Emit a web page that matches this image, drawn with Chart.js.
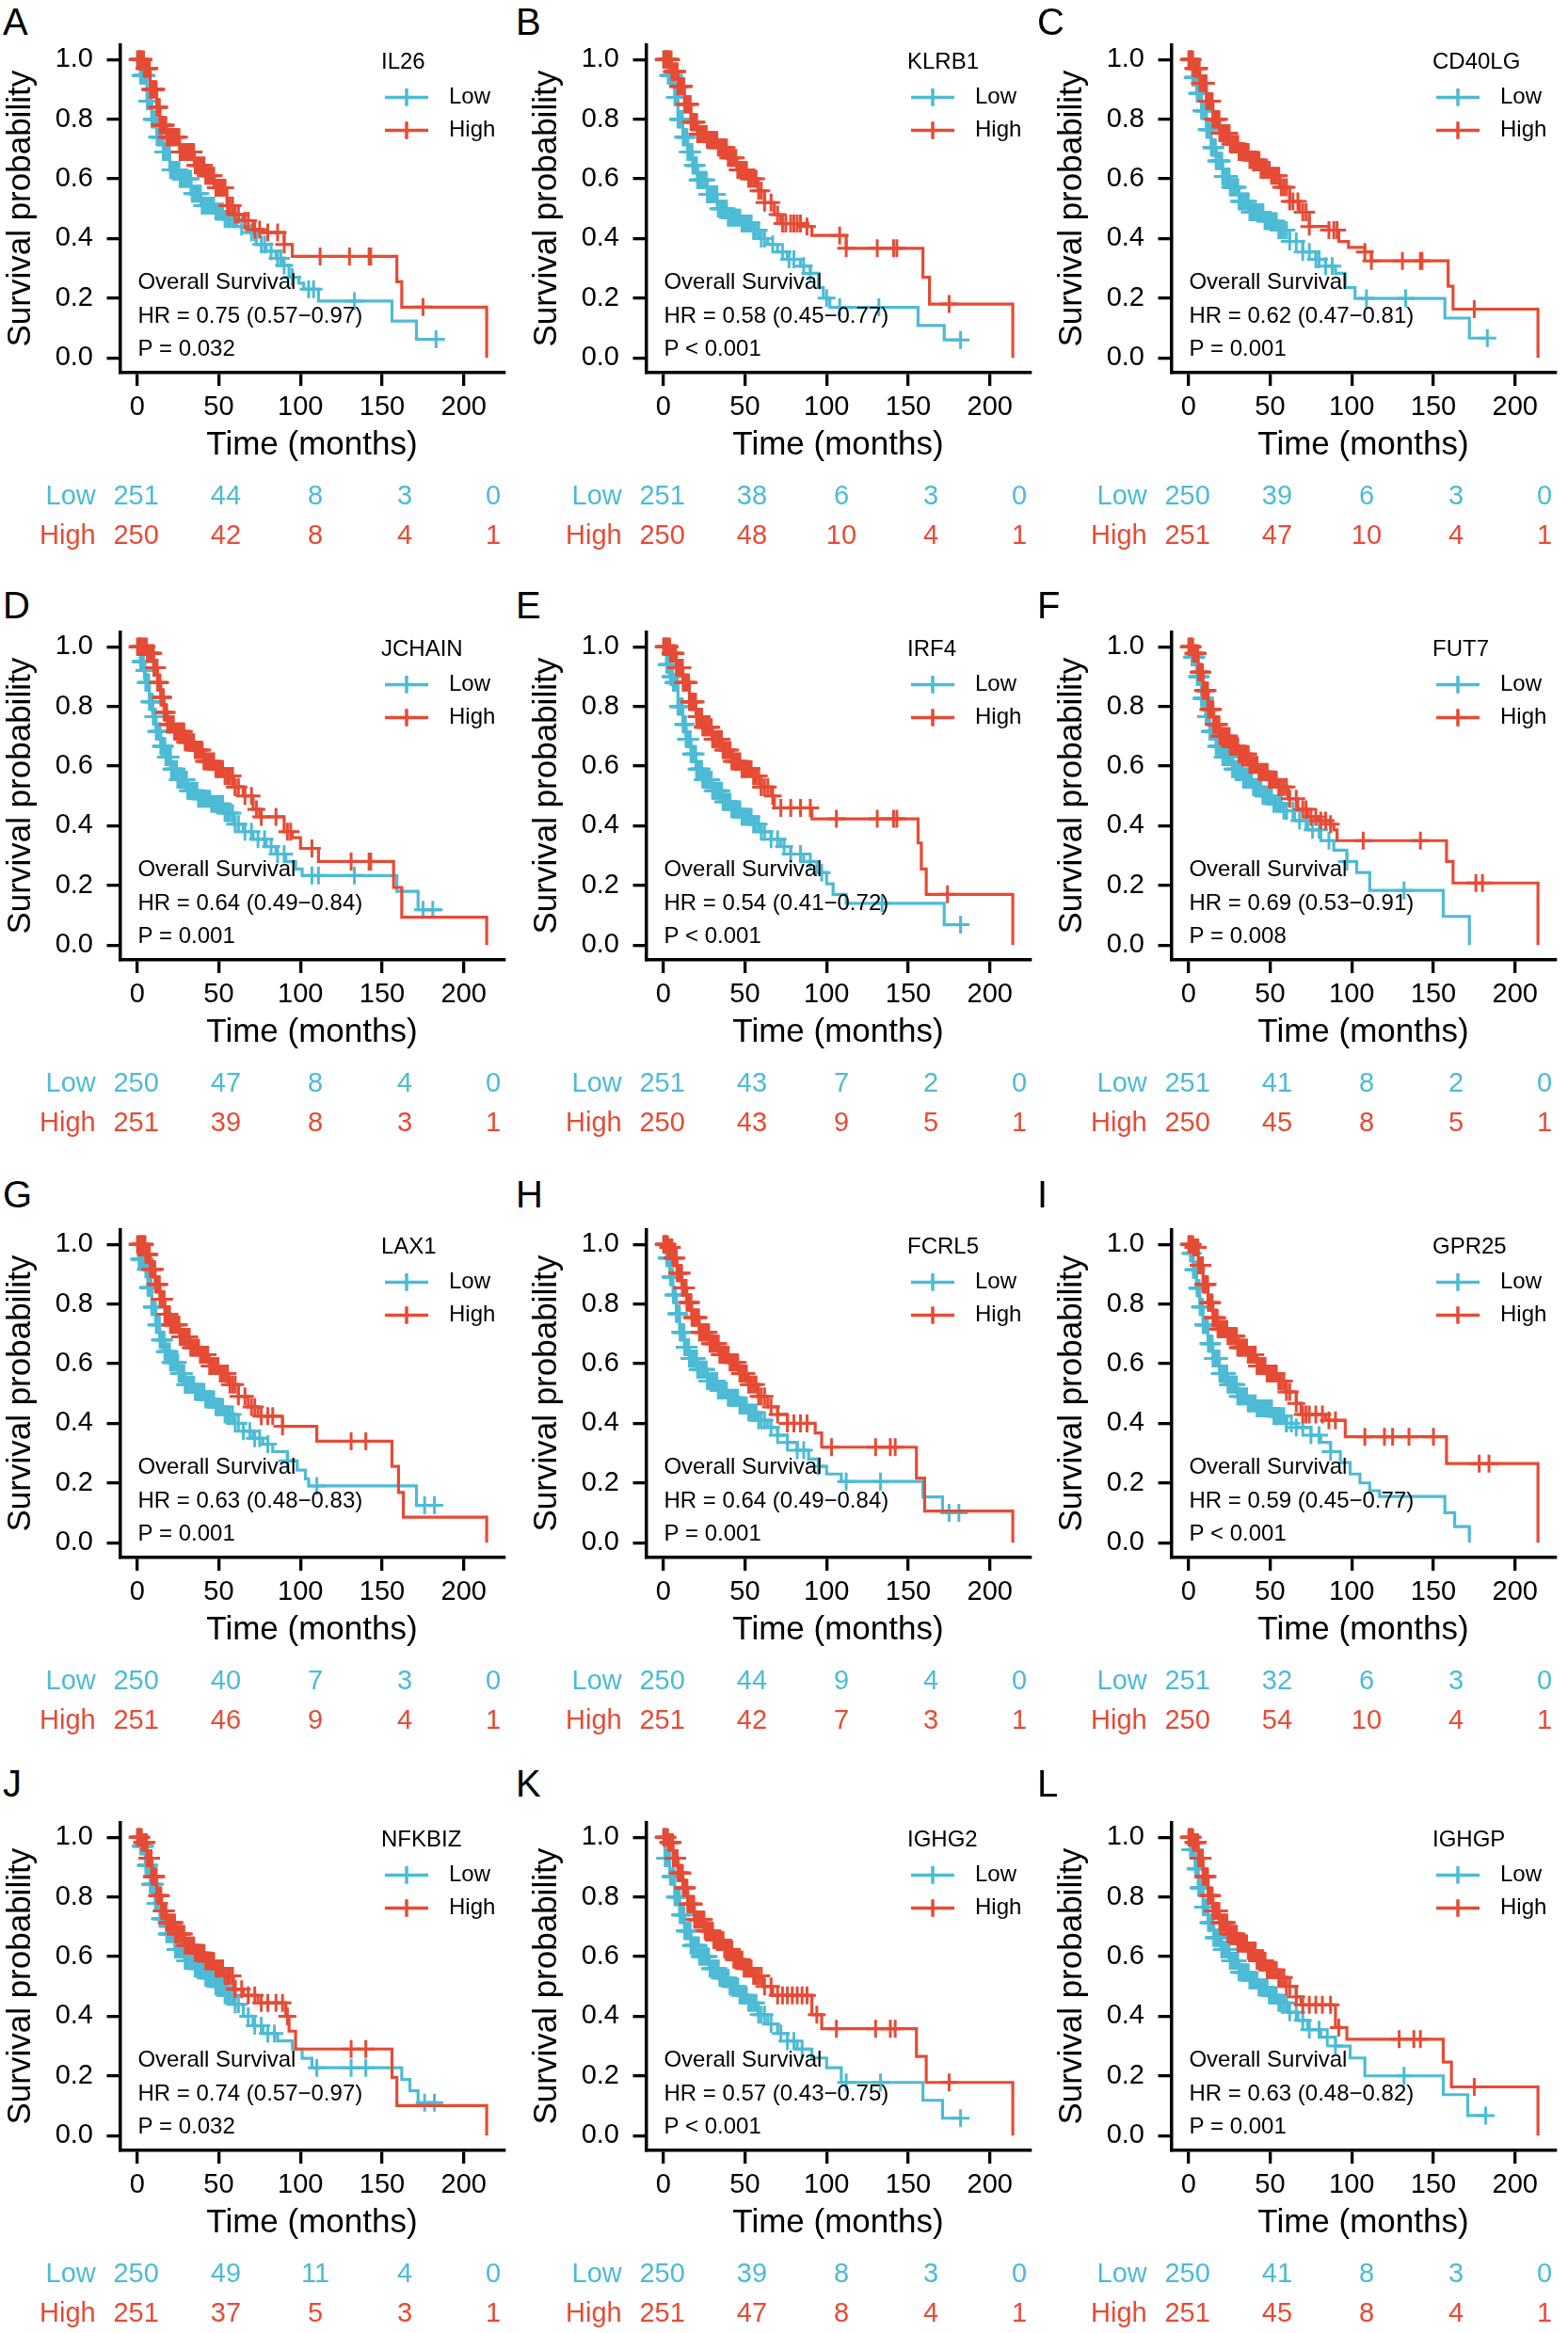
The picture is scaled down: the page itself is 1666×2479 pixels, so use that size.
<!DOCTYPE html>
<html>
<head>
<meta charset="utf-8">
<script src="https://cdn.jsdelivr.net/npm/chart.js@4.4.0/dist/chart.umd.min.js"></script>
<style>
  html, body { margin: 0; padding: 0; background: #fff; overflow: hidden; }
  #page { position: relative; width: 1666px; height: 2479px; background: #fff; }
  .letter { position: absolute; font: 40px "Liberation Sans", Arial, sans-serif; line-height: 40px; color: #000; }
</style>
</head>
<body>
<div id="page"></div>
<script>
(function(){
  const FONT = '"Liberation Sans", Arial, Helvetica, sans-serif';
  const BLUE = '#4DBBD5';
  const RED = '#E64B35';

  // ---- data ----
  const letters = ['A','B','C','D','E','F','G','H','I','J','K','L'];
  const genes = ['IL26','KLRB1','CD40LG','JCHAIN','IRF4','FUT7','LAX1','FCRL5','GPR25','NFKBIZ','IGHG2','IGHGP'];
  const hrLabels = [
    'HR = 0.75 (0.57\u22120.97)', 'HR = 0.58 (0.45\u22120.77)', 'HR = 0.62 (0.47\u22120.81)',
    'HR = 0.64 (0.49\u22120.84)', 'HR = 0.54 (0.41\u22120.72)', 'HR = 0.69 (0.53\u22120.91)',
    'HR = 0.63 (0.48\u22120.83)', 'HR = 0.64 (0.49\u22120.84)', 'HR = 0.59 (0.45\u22120.77)',
    'HR = 0.74 (0.57\u22120.97)', 'HR = 0.57 (0.43\u22120.75)', 'HR = 0.63 (0.48\u22120.82)'
  ];
  const pLabels = ['P = 0.032','P < 0.001','P = 0.001','P = 0.001','P < 0.001','P = 0.008',
                   'P = 0.001','P = 0.001','P < 0.001','P = 0.032','P < 0.001','P = 0.001'];
  const riskLow = [[251,44,8,3,0],[251,38,6,3,0],[250,39,6,3,0],[250,47,8,4,0],[251,43,7,2,0],[251,41,8,2,0],
                   [250,40,7,3,0],[250,44,9,4,0],[251,32,6,3,0],[250,49,11,4,0],[250,39,8,3,0],[250,41,8,3,0]];
  const riskHigh = [[250,42,8,4,1],[250,48,10,4,1],[251,47,10,4,1],[251,39,8,3,1],[250,43,9,5,1],[250,45,8,5,1],
                    [251,46,9,4,1],[251,42,7,3,1],[250,54,10,4,1],[251,37,5,3,1],[251,47,8,4,1],[251,45,8,4,1]];
  const timeTicks = [0, 50, 100, 150, 200];
  const survTicks = [0, 0.2, 0.4, 0.6, 0.8, 1.0];

  // dense censoring seen in the first years of every curve
  const earlyCens = [0.3,0.8,1.2,1.7,2.1,2.6,3,3.5,3.9,4.4,4.8,5.3,5.7,6.2,6.6,7.1,7.5,8,8.5,9,9.4,9.9,10.3,10.8,
    11.2,11.7,12.2,12.6,13.1,13.6,14,14.5,15,15.5,16,16.5,17,17.6,18.1,18.7,19.2,19.8,20.4,21,21.6,22.2,22.9,
    23.5,24.2,24.9,25.6,26.3,27,27.8,28.6,29.4,30.2,31,31.9,32.8,33.7,34.6,35.6,36.6,37.6,38.7,39.8,40.9,42,
    43.2,44.4,45.6,46.9,48.2,49.5,50.9,52.3,53.8,55.3,56.8,58.4,60];

  // step curves [months, survival]
  const A_low = [[0,1],[2,0.946],[6,0.86],[9,0.80],[12,0.74],[16,0.69],[20,0.63],[26,0.60],[33,0.55],[39,0.51],[47,0.49],[53,0.465],[61,0.44],[67,0.42],[73,0.38],[79,0.357],[85,0.333],[89,0.31],[93,0.27],[99,0.25],[102,0.23],[111,0.19],[156,0.123],[171,0.062],[184,0.062]];
  const A_high = [[0,1],[4,0.97],[8,0.90],[12,0.84],[14,0.78],[18,0.74],[26,0.69],[35,0.645],[41,0.61],[47,0.57],[55,0.51],[59,0.48],[65,0.46],[71,0.43],[77,0.42],[90,0.38],[95,0.34],[159,0.255],[162,0.17],[214,0]];
  const A_lowCens = [64,70,72,76,78,82,86,88,90,95,105,108,133,183];
  const A_highCens = [62,66,68,72,75,80,86,90,112,130,142,143,175];

  const B_low = [[0,1],[3,0.946],[7,0.873],[9,0.80],[12,0.74],[15,0.69],[18,0.645],[21,0.596],[27,0.548],[33,0.50],[39,0.47],[47,0.45],[54,0.428],[60,0.40],[64,0.38],[70,0.355],[76,0.33],[84,0.307],[90,0.283],[95,0.235],[98,0.20],[102,0.169],[156,0.108],[172,0.06],[183,0.06]];
  const B_high = [[0,1],[5,0.96],[9,0.91],[13,0.85],[17,0.79],[21,0.75],[27,0.73],[33,0.705],[39,0.67],[45,0.63],[52,0.60],[58,0.56],[62,0.52],[68,0.48],[72,0.45],[86,0.44],[91,0.41],[112,0.367],[159,0.27],[163,0.18],[214,0]];
  const B_lowCens = [62,67,73,77,80,86,90,100,108,132,182];
  const B_highCens = [62,66,70,73,75,78,80,82,84,88,108,112,131,141,143,175];

  const C_low = [[0,1],[2.5,0.94],[5,0.886],[8,0.828],[11,0.765],[14,0.705],[17,0.66],[21,0.608],[25,0.572],[31,0.524],[37,0.488],[46,0.458],[54,0.428],[62,0.39],[70,0.355],[78,0.33],[84,0.307],[90,0.283],[96,0.235],[102,0.199],[157,0.133],[172,0.066],[184,0.066]];
  const C_high = [[0,1],[3,0.97],[7,0.92],[11,0.86],[15,0.80],[19,0.753],[25,0.717],[31,0.69],[37,0.663],[44,0.63],[50,0.61],[56,0.572],[62,0.524],[68,0.488],[74,0.44],[86,0.428],[92,0.39],[98,0.37],[108,0.355],[112,0.325],[159,0.24],[162,0.163],[214,0]];
  const C_lowCens = [62,66,70,74,78,80,84,88,109,133,183];
  const C_highCens = [62,64,67,70,72,74,86,89,91,108,112,131,142,143,175];

  const D_low = [[0,1],[2,0.95],[4,0.92],[5,0.88],[7.5,0.815],[9.5,0.766],[11.5,0.716],[14.5,0.666],[17.6,0.63],[20.6,0.59],[24.6,0.554],[30.7,0.517],[36.8,0.49],[44.8,0.473],[53,0.442],[59,0.405],[65,0.38],[71,0.355],[79,0.33],[85,0.305],[91,0.28],[97,0.255],[101,0.233],[159,0.18],[172,0.118],[187,0.118]];
  const D_high = [[0,1],[6,0.978],[10,0.93],[12.5,0.88],[14.5,0.83],[16.5,0.78],[18.5,0.74],[22.6,0.716],[28.7,0.68],[34.7,0.654],[40.8,0.616],[47,0.59],[53,0.567],[59,0.53],[65,0.50],[71,0.455],[75,0.43],[90,0.38],[95,0.36],[100,0.324],[111,0.28],[157,0.193],[162,0.093],[214,0]];
  const D_lowCens = [62,66,70,74,78,82,86,90,107,111,133,175,181];
  const D_highCens = [60,62,66,70,73,76,85,92,94,107,131,142,143];

  const E_low = [[0,1],[2,0.94],[4,0.90],[6,0.88],[9,0.80],[12,0.74],[14,0.69],[17,0.64],[20,0.59],[24,0.554],[30,0.517],[36,0.48],[42,0.455],[48,0.43],[54,0.405],[60,0.38],[66,0.355],[72,0.33],[78,0.305],[86,0.28],[94,0.243],[100,0.205],[104,0.17],[112,0.14],[172,0.068],[183,0.068]];
  const E_high = [[0,1],[4,0.978],[8,0.93],[12,0.88],[16,0.815],[20,0.766],[24,0.73],[30,0.69],[36,0.654],[42,0.616],[48,0.59],[54,0.567],[60,0.53],[66,0.50],[68,0.46],[91,0.423],[156,0.342],[158,0.255],[161,0.17],[214,0]];
  const E_lowCens = [62,66,70,74,78,84,90,97,134,182];
  const E_highCens = [60,62,64,67,72,78,84,90,106,131,141,143,174];

  const F_low = [[0,1],[2,0.965],[5,0.90],[8,0.827],[10.5,0.766],[13,0.716],[17,0.666],[21,0.63],[27,0.59],[33,0.554],[39,0.53],[45,0.50],[51,0.473],[57,0.45],[65,0.417],[73,0.386],[81,0.35],[89,0.318],[97,0.28],[103,0.243],[111,0.183],[156,0.096],[172,0]];
  const F_high = [[0,1],[3,0.978],[6,0.915],[9,0.853],[12,0.79],[15.5,0.74],[19,0.70],[25,0.666],[31,0.64],[37,0.604],[43,0.58],[49,0.554],[55,0.53],[61,0.49],[67,0.455],[73,0.43],[80,0.417],[87,0.405],[89,0.386],[91,0.35],[158,0.28],[162,0.208],[214,0]];
  const F_lowCens = [60,64,68,72,76,80,86,97,132];
  const F_highCens = [62,66,70,72,75,78,81,84,87,107,142,176,180];

  const G_low = [[0,1],[1,0.95],[5,0.916],[6.6,0.855],[9,0.79],[11.4,0.73],[13.8,0.68],[16.8,0.64],[20,0.604],[25,0.567],[29,0.53],[35,0.505],[41,0.48],[47,0.455],[53,0.43],[59,0.40],[65,0.374],[71,0.35],[77,0.33],[83,0.305],[92,0.274],[98,0.243],[103,0.214],[105,0.19],[171,0.125],[183,0.125]];
  const G_high = [[0,1],[5,0.966],[8,0.916],[11,0.866],[14,0.816],[17,0.766],[20,0.73],[26,0.69],[32,0.654],[38,0.63],[44,0.592],[50,0.567],[56,0.53],[62,0.49],[68,0.455],[74,0.424],[89,0.39],[110,0.34],[156,0.256],[160,0.168],[163,0.085],[214,0]];
  const G_lowCens = [62,65,69,72,75,80,92,110,176,182];
  const G_highCens = [62,66,70,72,76,80,83,89,131,140];

  const H_low = [[0,1],[2,0.954],[4,0.89],[6,0.83],[8,0.767],[10,0.705],[13,0.655],[16,0.617],[21,0.58],[27,0.542],[33,0.51],[39,0.486],[46,0.46],[52,0.436],[58,0.41],[64,0.386],[70,0.36],[76,0.336],[82,0.31],[89,0.28],[95,0.256],[100,0.23],[109,0.205],[159,0.153],[171,0.10],[183,0.10]];
  const H_high = [[0,1],[3,0.99],[5.4,0.954],[8.4,0.904],[11.4,0.854],[14.4,0.805],[17.4,0.755],[22,0.705],[28,0.667],[34,0.63],[40,0.604],[46,0.567],[52,0.53],[58,0.49],[64,0.455],[70,0.43],[76,0.40],[93,0.368],[97,0.32],[155,0.216],[160,0.106],[214,0]];
  const H_lowCens = [62,66,70,76,82,86,95,112,133,175,181];
  const H_highCens = [62,66,70,76,80,84,88,103,130,139,142];

  const I_low = [[0,1],[1,0.97],[3,0.915],[5,0.853],[7,0.79],[9,0.73],[12,0.667],[15,0.617],[19,0.567],[24,0.53],[30,0.49],[36,0.467],[42,0.45],[51,0.424],[60,0.40],[66,0.386],[75,0.36],[81,0.336],[87,0.305],[93,0.268],[99,0.23],[105,0.20],[111,0.174],[117,0.155],[157,0.10],[163,0.054],[172,0]];
  const I_high = [[0,1],[3,0.99],[6,0.93],[9,0.866],[12,0.804],[15,0.754],[18,0.716],[24,0.692],[30,0.654],[36,0.63],[42,0.592],[48,0.567],[54,0.542],[60,0.505],[66,0.467],[69,0.43],[84,0.41],[96,0.355],[158,0.265],[214,0]];
  const I_lowCens = [54,60,63,66,70,75,80,87];
  const I_highCens = [62,66,70,72,74,78,82,86,90,108,120,125,135,150,178,184];

  const J_low = [[0,1],[2,0.97],[5,0.906],[8,0.842],[11,0.778],[14,0.727],[18,0.676],[23,0.624],[29,0.586],[35,0.56],[41,0.528],[47,0.50],[53,0.47],[59,0.44],[65,0.40],[71,0.368],[77,0.342],[86,0.317],[95,0.29],[101,0.259],[107,0.227],[162,0.188],[167,0.15],[172,0.11],[183,0.11]];
  const J_high = [[0,1],[3,0.983],[6,0.93],[9,0.868],[12,0.804],[15,0.753],[18,0.714],[23,0.676],[29,0.637],[35,0.612],[41,0.585],[47,0.56],[53,0.535],[59,0.49],[65,0.47],[74,0.445],[91,0.40],[93,0.35],[97,0.29],[156,0.195],[159,0.10],[214,0]];
  const J_lowCens = [62,68,72,76,80,84,110,131,140,176,182];
  const J_highCens = [60,64,68,72,76,80,85,89,92,131,140];

  const K_low = [[0,1],[1,0.93],[4,0.868],[7,0.80],[10,0.74],[13,0.686],[17,0.637],[22,0.60],[28,0.56],[34,0.528],[40,0.50],[46,0.47],[52,0.445],[58,0.405],[64,0.374],[70,0.342],[76,0.317],[82,0.29],[91,0.26],[100,0.227],[109,0.178],[159,0.118],[171,0.058],[183,0.058]];
  const K_high = [[0,1],[3,0.983],[6,0.93],[9,0.88],[12,0.83],[15,0.776],[19,0.724],[25,0.686],[31,0.655],[37,0.624],[43,0.59],[49,0.56],[55,0.535],[61,0.50],[67,0.47],[91,0.405],[97,0.358],[155,0.265],[161,0.178],[214,0]];
  const K_lowCens = [62,66,72,76,80,85,112,133,182];
  const K_highCens = [62,66,70,73,76,79,82,85,88,94,106,130,139,142,175];

  const L_low = [[0,1],[1,0.958],[4,0.894],[6,0.83],[9,0.766],[12,0.714],[15.5,0.663],[20,0.624],[25,0.586],[31,0.547],[37,0.52],[43,0.497],[49,0.47],[55,0.445],[61,0.413],[67,0.386],[73,0.355],[81,0.33],[90,0.30],[99,0.26],[108,0.20],[156,0.137],[171,0.067],[183,0.067]];
  const L_high = [[0,1],[3,0.983],[6,0.93],[9,0.868],[12,0.804],[15,0.753],[19,0.714],[24,0.676],[30,0.644],[36,0.62],[42,0.586],[48,0.555],[54,0.53],[60,0.50],[66,0.465],[69,0.438],[90,0.362],[97,0.323],[156,0.246],[161,0.163],[214,0]];
  const L_lowCens = [62,66,70,74,80,85,90,132,182];
  const L_highCens = [62,66,70,74,78,82,87,92,129,138,142,175];

  const lowCurves = [A_low,B_low,C_low,D_low,E_low,F_low,G_low,H_low,I_low,J_low,K_low,L_low];
  const highCurves = [A_high,B_high,C_high,D_high,E_high,F_high,G_high,H_high,I_high,J_high,K_high,L_high];
  const lowCens = [A_lowCens,B_lowCens,C_lowCens,D_lowCens,E_lowCens,F_lowCens,G_lowCens,H_lowCens,I_lowCens,J_lowCens,K_lowCens,L_lowCens];
  const highCens = [A_highCens,B_highCens,C_highCens,D_highCens,E_highCens,F_highCens,G_highCens,H_highCens,I_highCens,J_highCens,K_highCens,L_highCens];

  // ---- layout ----
  const colX = [0, 559, 1117];
  const rowY = [0, 624, 1259, 1889];
  const letterX = [3, 548, 1102];
  const letterBase = [37, 657, 1283, 1909];
  const riskX = [144.6, 240, 335, 430, 524];
  const CW = 548, CH = 600;

  const page = document.getElementById('page');

  function survAt(steps, t){
    let s = 1;
    for(const [x, y] of steps){ if(x <= t) s = y; else break; }
    return s;
  }
  function censorPoints(steps, late){
    const end = steps[steps.length - 1][0];
    return earlyCens.concat(late).filter(t => t <= end).map(t => ({x: t, y: survAt(steps, t)}));
  }

  const panelText = {
    id: 'panelText',
    afterDatasetsDraw(chart, args, opts){
      const i = opts.idx;
      const ctx = chart.ctx;
      ctx.save();
      ctx.textBaseline = 'middle';
      ctx.fillStyle = '#000';
      ctx.font = '24px ' + FONT;
      ctx.textAlign = 'left';
      // legend
      ctx.fillText(genes[i], 405, 66.7);
      [[BLUE, 'Low', 103.4], [RED, 'High', 138.5]].forEach(([c, lab, y]) => {
        ctx.strokeStyle = c;
        ctx.lineWidth = 3.5;
        ctx.beginPath();
        ctx.moveTo(409, y); ctx.lineTo(455, y);
        ctx.moveTo(432, y - 9.3); ctx.lineTo(432, y + 9.3);
        ctx.stroke();
        ctx.fillStyle = '#000';
        ctx.fillText(lab, 477, y);
      });
      // stats text
      ctx.fillText('Overall Survival', 146.4, 300);
      ctx.fillText(hrLabels[i], 146.4, 336.5);
      ctx.fillText(pLabels[i], 146.4, 371);
      // number at risk
      ctx.font = '29px ' + FONT;
      [[BLUE, 'Low', riskLow[i], 528], [RED, 'High', riskHigh[i], 570]].forEach(([c, lab, vals, y]) => {
        ctx.fillStyle = c;
        ctx.textAlign = 'right';
        ctx.fillText(lab, 101.7, y);
        ctx.textAlign = 'center';
        vals.forEach((v, k) => ctx.fillText(String(v), riskX[k], y));
      });
      ctx.restore();
    }
  };

  const axisGrid = {display: true, drawOnChartArea: false, drawTicks: true, tickLength: 14, tickWidth: 3.3, tickColor: '#000', color: '#000', lineWidth: 3.3};
  const axisBorder = {display: true, color: '#000', width: 3.5};

  for(let i = 0; i < 12; i++){
    const col = i % 3, row = Math.floor(i / 3);

    const lt = document.createElement('div');
    lt.className = 'letter';
    lt.textContent = letters[i];
    lt.style.left = letterX[col] + 'px';
    lt.style.top = (letterBase[row] - 33.9) + 'px';
    page.appendChild(lt);

    const cv = document.createElement('canvas');
    cv.width = CW; cv.height = CH;
    cv.style.cssText = 'position:absolute;left:' + colX[col] + 'px;top:' + rowY[row] + 'px;width:' + CW + 'px;height:' + CH + 'px';
    page.appendChild(cv);

    new Chart(cv.getContext('2d'), {
      type: 'line',
      data: {
        datasets: [
          {label: 'High censored', data: censorPoints(highCurves[i], highCens[i]), showLine: false,
           pointStyle: 'cross', pointRadius: 9.5, pointBorderWidth: 3, borderColor: RED, pointBorderColor: RED, backgroundColor: RED},
          {label: 'High', data: highCurves[i].map(([x, y]) => ({x, y})), stepped: true,
           borderColor: RED, borderWidth: 3.2, pointRadius: 0, fill: false},
          {label: 'Low censored', data: censorPoints(lowCurves[i], lowCens[i]), showLine: false,
           pointStyle: 'cross', pointRadius: 9.5, pointBorderWidth: 3, borderColor: BLUE, pointBorderColor: BLUE, backgroundColor: BLUE},
          {label: 'Low', data: lowCurves[i].map(([x, y]) => ({x, y})), stepped: true,
           borderColor: BLUE, borderWidth: 3.2, pointRadius: 0, fill: false}
        ]
      },
      options: {
        responsive: false,
        animation: false,
        devicePixelRatio: 1,
        events: [],
        layout: {padding: {left: 0, top: 47.4, right: CW - 542.7, bottom: 100}},
        plugins: {legend: {display: false}, tooltip: {enabled: false}, panelText: {idx: i}},
        scales: {
          x: {
            type: 'linear', min: -10.5, max: 224.6,
            afterBuildTicks: s => { s.ticks = timeTicks.map(v => ({value: v})); },
            afterFit: s => { s.height = 104; },
            ticks: {color: '#000', font: {family: FONT, size: 29}, padding: 5.9, maxRotation: 0, autoSkip: false,
                    callback: v => String(v)},
            grid: axisGrid,
            border: axisBorder,
            title: {display: true, text: 'Time (months)', color: '#000', font: {family: FONT, size: 35}, padding: {top: 0, bottom: 5.2}}
          },
          y: {
            type: 'linear', min: -0.05, max: 1.05,
            afterBuildTicks: s => { s.ticks = survTicks.map(v => ({value: v})); },
            afterFit: s => { s.width = 127.5; },
            ticks: {color: '#000', font: {family: FONT, size: 29}, padding: 14.5, callback: v => Number(v).toFixed(1)},
            grid: axisGrid,
            border: axisBorder,
            title: {display: true, text: 'Survival probability', color: '#000', font: {family: FONT, size: 35}, padding: {top: 1.2, bottom: 0}}
          }
        }
      },
      plugins: [panelText]
    });
  }
})();
</script>
</body>
</html>
